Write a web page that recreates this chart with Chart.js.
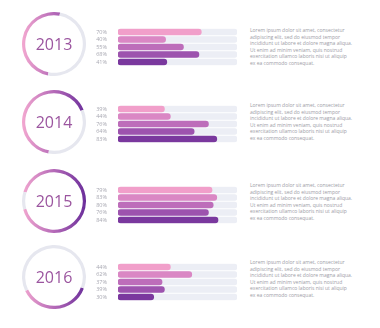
<!DOCTYPE html>
<html>
<head>
<meta charset="utf-8">
<script src="https://cdn.jsdelivr.net/npm/chart.js@4"></script>
<style>
  body { margin: 0; background: #fff; width: 380px; height: 328px; position: relative; overflow: hidden; }
  canvas { position: absolute; }
  .txt { position: absolute; left: 250px; font-family: "Open Sans", sans-serif; font-size: 5px; line-height: 6.5px; color: #9c9ca6; white-space: nowrap; }
</style>
</head>
<body>
<canvas id="ring0" width="64" height="64"></canvas>
<canvas id="ring1" width="64" height="64"></canvas>
<canvas id="ring2" width="64" height="64"></canvas>
<canvas id="ring3" width="64" height="64"></canvas>
<canvas id="bars0" width="144" height="50"></canvas>
<canvas id="bars1" width="144" height="50"></canvas>
<canvas id="bars2" width="144" height="50"></canvas>
<canvas id="bars3" width="144" height="50"></canvas>
<script>
const years = ["2013", "2014", "2015", "2016"];
const ringValues = [50, 66, 91, 37];
const ringStart = [191, 190, 287, 111]; // degrees, 0 = top
const bars2013 = [70, 40, 55, 68, 41];
const bars2014 = [39, 44, 76, 64, 83];
const bars2015 = [79, 83, 80, 76, 84];
const bars2016 = [44, 62, 37, 39, 30];
const barMax = 100;

const allBars = [bars2013, bars2014, bars2015, bars2016];
const barColors = ["#f19fca", "#da87c4", "#bd6dba", "#9d53ae", "#7a389e"];
const ringCenterY = [44, 122, 201, 277];
const barsTop = [22, 99, 180, 257];
const textTop = [27, 102, 182, 259];

const lorem = "Lorem ipsum dolor sit amet, consectetur<br>adipiscing elit, sed do eiusmod tempor<br>incididunt ut labore et dolore magna aliqua.<br>Ut enim ad minim veniam, quis nostrud<br>exercitation ullamco laboris nisi ut aliquip<br>ex ea commodo consequat.";

// year in the middle of each ring
const centerText = {
  id: "centerText",
  afterDraw(chart, args, opts) {
    const c = chart.ctx;
    const a = chart.chartArea;
    c.save();
    c.font = "16px 'Open Sans'";
    c.fillStyle = "#9b559f";
    c.textAlign = "center";
    c.textBaseline = "middle";
    c.fillText(opts.text, (a.left + a.right) / 2, (a.top + a.bottom) / 2 + 1);
    c.restore();
  }
};

years.forEach((yr, i) => {
  const rc = document.getElementById("ring" + i);
  rc.style.left = "22px";
  rc.style.top = (ringCenterY[i] - 32) + "px";
  new Chart(rc, {
    type: "doughnut",
    data: {
      datasets: [{
        data: [ringValues[i], 100 - ringValues[i]],
        borderWidth: 0,
        backgroundColor: (ctx) => {
          if (ctx.dataIndex === 1) return "#e6e7ef";
          const a = ctx.chart.chartArea;
          if (!a) return "#b066b5";
          const g = ctx.chart.ctx.createLinearGradient(a.left, 0, a.right, 0);
          g.addColorStop(0, "#f3a8d0");
          g.addColorStop(0.5, "#b56ab8");
          g.addColorStop(1, "#6a2d9a");
          return g;
        }
      }]
    },
    options: {
      responsive: false,
      animation: false,
      rotation: ringStart[i],
      cutout: "90%",
      layout: { padding: 0 },
      plugins: {
        legend: { display: false },
        tooltip: { enabled: false },
        centerText: { text: yr }
      }
    },
    plugins: [centerText]
  });

  const bc = document.getElementById("bars" + i);
  bc.style.left = "96px";
  bc.style.top = barsTop[i] + "px";
  const vals = allBars[i];
  new Chart(bc, {
    type: "bar",
    data: {
      labels: vals.map(v => v + "%"),
      datasets: [
        {
          data: vals,
          backgroundColor: barColors,
          barThickness: 6,
          borderRadius: 3,
          borderSkipped: false,
          grouped: false
        },
        {
          data: vals.map(() => barMax),
          backgroundColor: "#eceef5",
          barThickness: 6,
          borderRadius: 3,
          borderSkipped: false,
          grouped: false
        }
      ]
    },
    options: {
      indexAxis: "y",
      responsive: false,
      animation: false,
      layout: { padding: { right: 3 } },
      plugins: { legend: { display: false }, tooltip: { enabled: false } },
      scales: {
        x: { display: false, min: 0, max: barMax },
        y: {
          grid: { display: false },
          border: { display: false },
          ticks: { color: "#a8a8b2", padding: 3, autoSkip: false, font: { size: 5.5, family: "Open Sans" } },
          afterFit(s) { s.width = 22; }
        }
      }
    }
  });

  const t = document.createElement("div");
  t.className = "txt";
  t.style.top = textTop[i] + "px";
  t.innerHTML = lorem;
  document.body.appendChild(t);
});
</script>
</body>
</html>
